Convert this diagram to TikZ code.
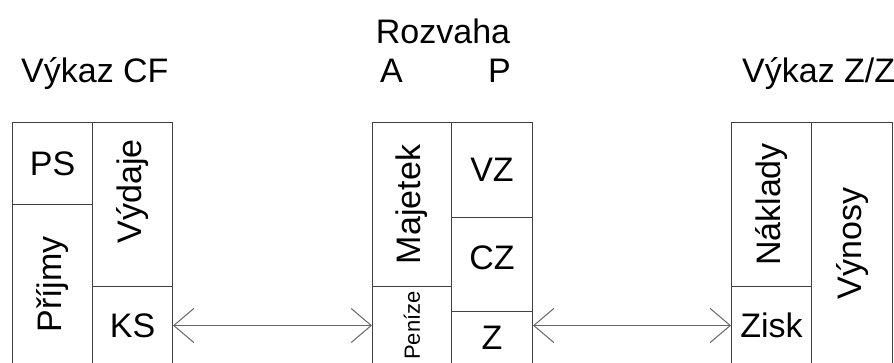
\documentclass[tikz,border=0pt]{standalone}
\usepackage{fontspec}
\setmainfont{Liberation Sans}
\usetikzlibrary{arrows.meta}

\newcommand{\bigtext}{\fontsize{34}{40}\selectfont}
\newcommand{\smalltext}{\fontsize{22}{26}\selectfont}

\tikzset{
	cell/.style = {draw=black!75, line width=1pt, anchor=north west, inner sep=0pt,
		minimum width=80pt, font=\bigtext},
	title/.style = {anchor=base west, inner sep=0pt, font=\bigtext},
	flow/.style = {{Straight Barb[length=20pt,width=34pt]}-{Straight Barb[length=20pt,width=34pt]},
		draw=black!60, line width=1pt},
}

\begin{document}
\begin{tikzpicture}[x=1pt, y=-1pt]
			\clip (0,0) rectangle (894,362);
			
			% headings
			\node[title] (cf) at (21,82) {Výkaz CF};
			\node[title, anchor=base] (rozvaha) at (443,43) {Rozvaha};
			\node[title] (aktiva) at (380,82) {A};
			\node[title] (pasiva) at (488,82) {P};
			\node[title] (zz) at (742,82) {Výkaz Z/Z};
			
			% cash flow
			\node[cell, minimum height=82pt] (ps) at (12,122) {PS};
			\node[cell, minimum height=160pt] (prijmy) at (12,204) {\rotatebox{90}{Příjmy}};
			\node[cell, minimum height=164pt] (vydaje) at (92,122) {\rotatebox{90}{\hspace*{26pt}Výdaje}};
			\node[cell, minimum height=78pt] (ks) at (92,286) {KS};
			
			% rozvaha
			\node[cell, minimum width=79pt, minimum height=164pt] (majetek) at (372,122) {\rotatebox{90}{Majetek}};
			\node[cell, minimum width=79pt, minimum height=78pt, font=\smalltext] (penize) at (372,286) {\rotatebox{90}{Peníze}};
			\node[cell, minimum width=81pt, minimum height=95pt] (vz) at (451,122) {VZ};
			\node[cell, minimum width=81pt, minimum height=94pt] (cz) at (451,217) {\raisebox{7pt}[\height][\depth]{CZ}};
			\node[cell, minimum width=81pt, minimum height=53pt] (z) at (451,311) {Z};
			
			% vysledovka
			\node[cell, minimum height=164pt] (naklady) at (731,122) {\rotatebox{90}{Náklady}};
			\node[cell, minimum height=78pt] (zisk) at (731,286) {Zisk};
			\node[cell, minimum width=81pt, minimum height=242pt] (vynosy) at (811,122) {\rotatebox{90}{Výnosy}};
			
			\draw[flow] (ks.east) -- (penize.west);
			\draw[flow] (zisk.west -| z.east) -- (zisk.west);
\end{tikzpicture}
\end{document}
